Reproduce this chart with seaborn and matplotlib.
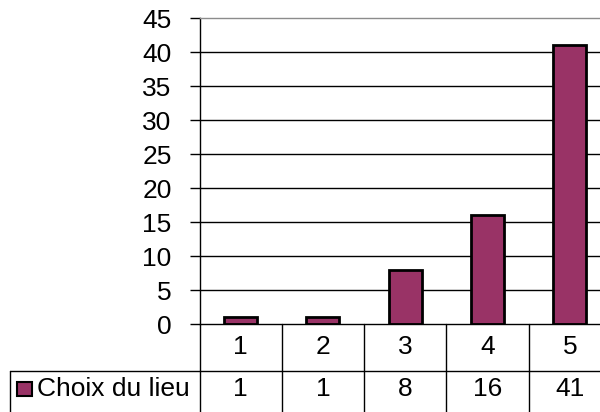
import matplotlib
matplotlib.use("Agg")
import matplotlib.pyplot as plt
from matplotlib.lines import Line2D
from matplotlib.patches import Rectangle
import matplotlib.transforms as mtransforms
import seaborn as sns
import pandas as pd

categories = ["1", "2", "3", "4", "5"]
values = [1, 1, 8, 16, 41]
series_name = "Choix du lieu"
yticks = [0, 5, 10, 15, 20, 25, 30, 35, 40, 45]

BAR = "#993366"
W, H = 600, 412

sns.set_theme(style="white")
plt.rcParams['font.family'] = ['Liberation Sans', 'DejaVu Sans']
FS = 19

fig = plt.figure(figsize=(W / 100, H / 100), dpi=100)
fig.patch.set_facecolor("white")
ax_l, ax_r, ax_t, ax_b = 199.5, 611, 18, 324
ax = fig.add_axes([ax_l / W, 1 - ax_b / H, (ax_r - ax_l) / W, (ax_b - ax_t) / H])

df = pd.DataFrame({"cat": categories, "val": values})
sns.barplot(data=df, x="cat", y="val", color=BAR, saturation=1, width=0.4,
            edgecolor="black", linewidth=2, ax=ax, zorder=2)

ax.set_xlim(-0.5, len(categories) - 0.5)
ax.set_ylim(0, 45)
ax.set_yticks(yticks)
ax.set_yticklabels([str(t) for t in yticks], fontsize=FS, color="black")
ax.set_xticks([])
ax.set_xlabel("")
ax.set_ylabel("")
for t in yticks[1:-1]:
    ax.axhline(t, color="black", linewidth=1, zorder=0.5)
ax.tick_params(axis="y", direction="out", length=7.5, width=1, color="black", pad=12.5, left=True)
ax.spines["right"].set_visible(False)
ax.spines["top"].set_color("#8c8c8c")
ax.spines["top"].set_linewidth(1)
for s in ["left", "bottom"]:
    ax.spines[s].set_color("black")
    ax.spines[s].set_linewidth(1)

# data table below the plot
def fy(px):
    return 1 - px / H

bt = mtransforms.blended_transform_factory(ax.transData, fig.transFigure)
row_sep = 370.7
for i in range(len(categories) + 1):
    x = i - 0.5
    fig.add_artist(Line2D([x, x], [fy(ax_b), fy(H + 5)], transform=bt, color="black", linewidth=1))
fig.add_artist(Line2D([10 / W, 1.05], [fy(row_sep), fy(row_sep)], transform=fig.transFigure,
                      color="black", linewidth=1))
fig.add_artist(Line2D([10 / W, 10 / W], [fy(row_sep), fy(H + 5)], transform=fig.transFigure,
                      color="black", linewidth=1))

for i, (c, v) in enumerate(zip(categories, values)):
    fig.text(i, fy(347.5), c, transform=bt, ha="center", va="center", fontsize=FS, color="black")
    fig.text(i, fy(389), str(v), transform=bt, ha="center", va="center", fontsize=FS, color="black")

fig.add_artist(Rectangle((17 / W, fy(396)), 15 / W, 14 / H, transform=fig.transFigure,
                         facecolor=BAR, edgecolor="black", linewidth=1.5))
fig.text(37 / W, fy(389), series_name, ha="left", va="center", fontsize=FS, color="black")

fig.savefig("out.png", dpi=100, facecolor="white")
